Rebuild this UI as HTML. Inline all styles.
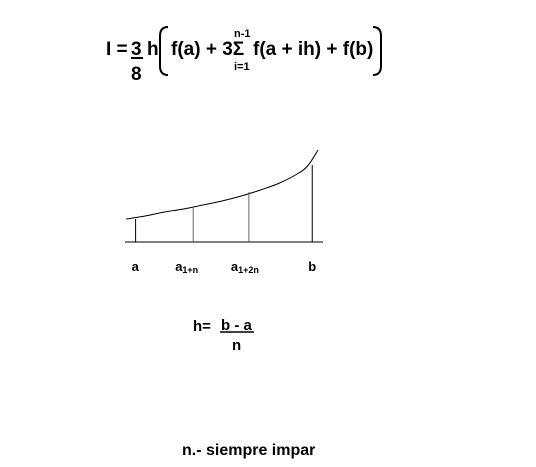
<!DOCTYPE html>
<html><head><meta charset="utf-8"><style>
html,body{margin:0;padding:0;background:#fff;width:536px;height:467px;overflow:hidden}
svg text{font-family:"Liberation Sans",Arial,sans-serif;font-weight:bold;fill:#000}
</style></head><body>
<svg width="536" height="467" viewBox="0 0 536 467">
<g>
<text x="106" y="55" font-size="19">I =</text>
<text x="131" y="55" font-size="19">3</text>
<line x1="131" y1="58" x2="143" y2="58" stroke="#000" stroke-width="2"/>
<text x="131" y="80" font-size="19">8</text>
<text x="147" y="55" font-size="19">h</text>
<path d="M168,27 Q160,27 160,36 L160,66 Q160,75 168,75" fill="none" stroke="#000" stroke-width="2"/>
<text x="171" y="55" font-size="19">f(a) + 3Σ</text>
<text x="234" y="37" font-size="11">n-1</text>
<text x="234" y="70" font-size="11">i=1</text>
<text x="253" y="55" font-size="19">f(a + ih) + f(b)</text>
<path d="M373,27 Q381,27 381,36 L381,66 Q381,75 373,75" fill="none" stroke="#000" stroke-width="2"/>
</g>
<g id="chart"></g>
<text x="193" y="331" font-size="15">h=</text>
<text x="221" y="330" font-size="15">b - a</text>
<line x1="220" y1="332" x2="254" y2="332" stroke="#000" stroke-width="1.5"/>
<text x="232" y="350" font-size="15">n</text>
<text x="182" y="455" font-size="16">n.- siempre impar</text>
</svg>
<script>
const tickLabels=["a","a","a","b"];
const tickSubs=["","1+n","1+2n",""];
const tickX=[0.05,0.35,0.64,0.97];
const tickY=[23,35,50,77];
const curveX=[0,0.1,0.2,0.3,0.4,0.5,0.6,0.7,0.8,0.9,0.95,1];
const curveY=[23,26,30,33,37,41,46,52,59,69,77,92];
const ns="http://www.w3.org/2000/svg";
const g=document.getElementById('chart');
const x0=126,x1=318,y0=242,ys=1;
const sx=v=>x0+v*(x1-x0);
const sy=v=>y0-v*ys;
function mk(t,a){const e=document.createElementNS(ns,t);for(const k in a)e.setAttribute(k,a[k]);g.appendChild(e);return e;}
const ax=mk('line',{x1:125,y1:y0,x2:323,y2:y0,stroke:'#000','stroke-width':1});


let d='M'+sx(curveX[0])+','+sy(curveY[0]);
for(let i=1;i<curveX.length;i++){
 const xa=sx(curveX[i-1]),ya=sy(curveY[i-1]),xb=sx(curveX[i]),yb=sy(curveY[i]);
 const xp=i>1?sx(curveX[i-2]):xa,yp=i>1?sy(curveY[i-2]):ya;
 const xn=i<curveX.length-1?sx(curveX[i+1]):xb,yn=i<curveX.length-1?sy(curveY[i+1]):yb;
 d+=' C'+(xa+(xb-xp)/6)+','+(ya+(yb-yp)/6)+' '+(xb-(xn-xa)/6)+','+(yb-(yn-ya)/6)+' '+xb+','+yb;
}
const p=mk('path',{d:d,fill:'none',stroke:'#000','stroke-width':1});


tickX.forEach((v,i)=>{
 const l=mk('line',{x1:sx(v),y1:y0,x2:sx(v),y2:sy(tickY[i]),stroke:i==0||i==3?'#000':'#666','stroke-width':1});
 
 
 const t=mk('text',{x:sx(v)-(tickSubs[i]?18:4),y:271,'font-size':13});
 
 
 t.textContent=tickLabels[i];
 if(tickSubs[i]){const s=document.createElementNS(ns,'tspan');s.setAttribute('font-size','9');s.setAttribute('dy','2');s.textContent=tickSubs[i];t.appendChild(s);}
});
</script>
</body></html>
